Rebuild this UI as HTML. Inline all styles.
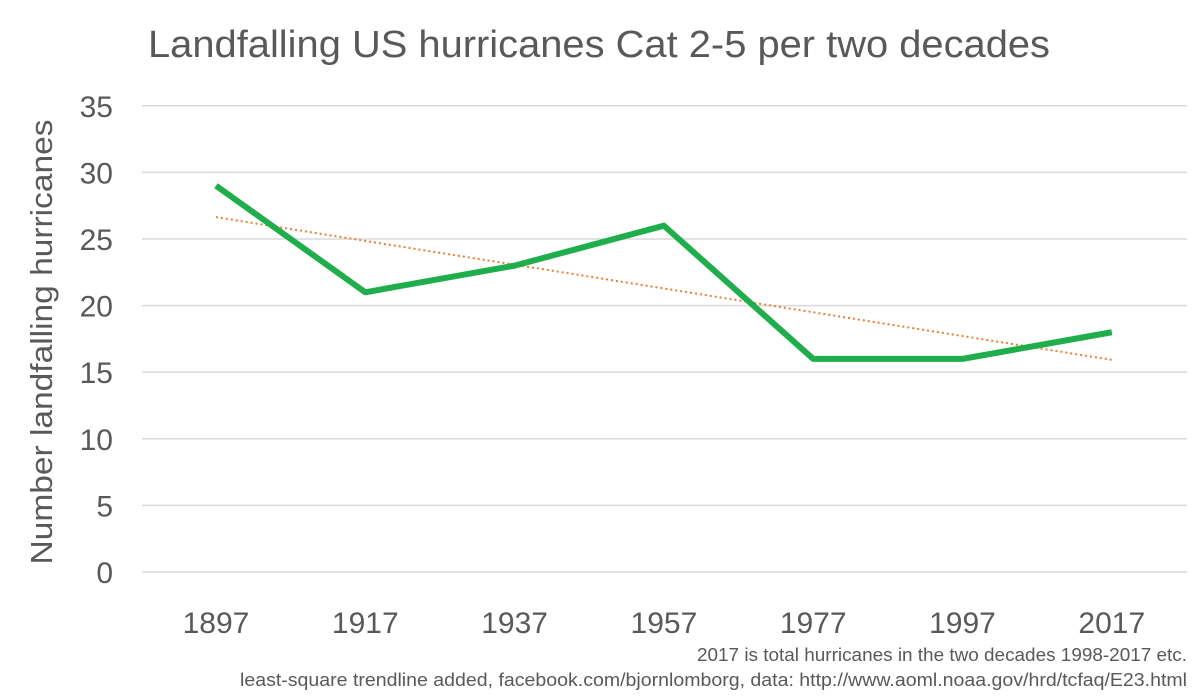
<!DOCTYPE html>
<html><head><meta charset="utf-8"><style>
body{margin:0;background:#fff;width:1200px;height:692px;overflow:hidden;font-family:"Liberation Sans",sans-serif}
</style></head><body>
<svg id="c" width="1200" height="692" font-family="Liberation Sans, sans-serif">
<text x="148" y="57" font-size="38" fill="#595959" textLength="902" lengthAdjust="spacingAndGlyphs">Landfalling US hurricanes Cat 2-5 per two decades</text>
<text transform="translate(52,342) rotate(-90)" text-anchor="middle" font-size="31" fill="#595959" textLength="445" lengthAdjust="spacingAndGlyphs">Number landfalling hurricanes</text>
<g id="grid"></g><g id="ylab"></g><g id="xlab"></g><g id="series"></g>
<text x="697" y="661" font-size="18" fill="#595959" textLength="490" lengthAdjust="spacingAndGlyphs">2017 is total hurricanes in the two decades 1998-2017 etc.</text>
<text x="240" y="686" font-size="18" fill="#595959" textLength="947" lengthAdjust="spacingAndGlyphs">least-square trendline added, facebook.com/bjornlomborg, data: http://www.aoml.noaa.gov/hrd/tcfaq/E23.html</text>
</svg>
<script>
const categories=["1897","1917","1937","1957","1977","1997","2017"];
const values=[29,21,23,26,16,16,18];
const yTicks=[0,5,10,15,20,25,30,35];
const NS="http://www.w3.org/2000/svg";
const x=i=>216+i*149.3;
const y=v=>572-v*13.32;
function mk(t,a,p){const e=document.createElementNS(NS,t);for(const k in a)e.setAttribute(k,a[k]);p.appendChild(e);return e;}
const grid=document.getElementById('grid'),yl=document.getElementById('ylab'),xl=document.getElementById('xlab'),s=document.getElementById('series');
yTicks.forEach(v=>{
 const l=mk('line',{x1:142,x2:1187,y1:y(v),y2:y(v),stroke:'#d9d9d9','stroke-width':1.5},grid);
 
 
 const t=mk('text',{x:113,y:y(v)+11,'text-anchor':'end','font-size':30,fill:'#595959'},yl);t.textContent=v;
 
 
});
categories.forEach((c,i)=>{
 const t=mk('text',{x:x(i),y:633,'text-anchor':'middle','font-size':30,fill:'#595959'},xl);t.textContent=c;
 
 
});
const n=values.length,mx=(n-1)/2,my=values.reduce((a,b)=>a+b,0)/n;
let num=0,den=0;values.forEach((v,i)=>{num+=(i-mx)*(v-my);den+=(i-mx)*(i-mx);});
const sl=num/den,ic=my-sl*mx;
const tr=mk('line',{x1:x(0),y1:y(ic),x2:x(n-1),y2:y(ic+sl*(n-1)),stroke:'#ed7d31','stroke-width':2,'stroke-dasharray':'2 3'},s);


const pl=mk('polyline',{points:values.map((v,i)=>x(i)+','+y(v)).join(' '),fill:'none',stroke:'#1fae4b','stroke-width':6,'stroke-linejoin':'round'},s);


</script>
</body></html>
